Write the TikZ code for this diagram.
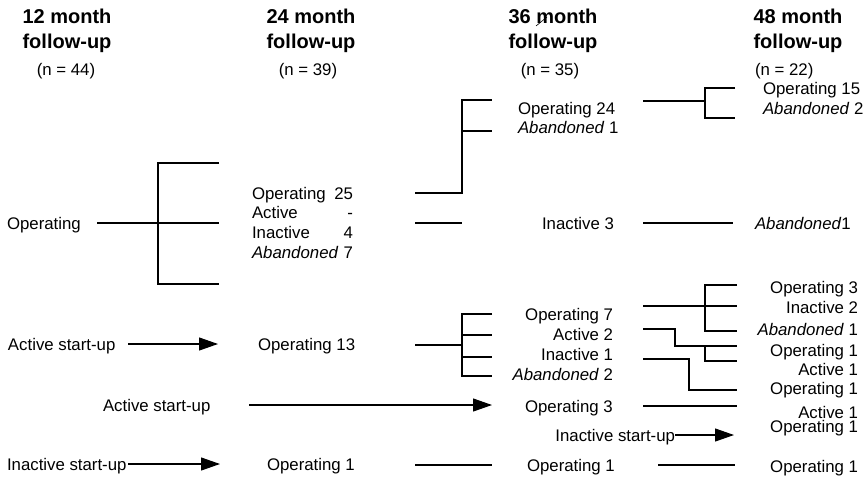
\documentclass[tikz,border=0pt]{standalone}
\usepackage{fontspec}
\setmainfont{Liberation Sans}
\usetikzlibrary{arrows.meta}
% one line of a justified two-part entry (label left, count right)
\newcommand\jline[2]{\hbox to 101pt{#1\hfill #2}}
\begin{document}
\begin{tikzpicture}[x=1pt,y=-1pt,
  txt/.style={font=\fontsize{16.8}{19.8}\selectfont, inner sep=0pt, outer sep=0pt},
  hd/.style={font=\fontsize{20}{24}\selectfont\bfseries, inner sep=0pt, anchor=base},
  conn/.style={line width=1.1pt},
  arr/.style={conn, -{Triangle[length=19pt,width=13pt]}},
]
\useasboundingbox (0,0) rectangle (867,477);

% ---- column headers ----
\node[hd] (h12a) at (67,23) {12 month};
\node[hd] (h12b) at (67,48) {follow-up};
\node[txt,anchor=base] (h12n) at (66,75) {(n = 44)};
\node[hd] (h24a) at (311,23) {24 month};
\node[hd] (h24b) at (311,48) {follow-up};
\node[txt,anchor=base] (h24n) at (308,75) {(n = 39)};
\node[hd] (h36a) at (553,23) {36 month};
\node[hd] (h36b) at (553,48) {follow-up};
\node[txt,anchor=base] (h36n) at (550,75) {(n = 35)};
\draw[line width=0.6pt] (536,26) -- (547,17);
\node[hd] (h48a) at (798,23) {48 month};
\node[hd] (h48b) at (798,48) {follow-up};
\node[txt,anchor=base west] (h48n) at (755,75) {(n = 22)};

% ---- 12 month ----
\node[txt,anchor=base west] (op12) at (7,229) {Operating};
\node[txt,anchor=base west] (as12) at (8,350) {Active start-up};
\node[txt,anchor=base west] (is12) at (7,470) {Inactive start-up};

% ---- 24 month (multi-line nodes are placed by their last baseline) ----
\node[txt,anchor=base west,align=left] (blk24) at (252,258.4)
  {\jline{Operating}{25}\\\jline{Active}{-}\\\jline{Inactive}{4}\\\jline{\textit{Abandoned}}{7}};
\node[txt,anchor=base west] (op13) at (258,350) {Operating 13};
\node[txt,anchor=base west] (as24) at (103,411) {Active start-up};
\node[txt,anchor=base west] (op1b) at (267,470) {Operating 1};

% ---- 36 month ----
\node[txt,anchor=base west,align=left,font=\fontsize{16.8}{19}\selectfont] (op24) at (518,133)
  {Operating 24\\\textit{Abandoned} 1};
\node[txt,anchor=base west] (in3) at (542,229) {Inactive 3};
\node[txt,anchor=base east,align=right,font=\fontsize{16.8}{20}\selectfont] (blk7) at (613,380)
  {Operating 7\\Active 2\\Inactive 1\\\textit{Abandoned} 2};
\node[txt,anchor=base west] (op3) at (525,412) {Operating 3};
\node[txt,anchor=base east] (isu36) at (675,441) {Inactive start-up};
\node[txt,anchor=base west] (op1c) at (527,471) {Operating 1};

% ---- 48 month ----
\node[txt,anchor=base west,align=left,font=\fontsize{16.8}{20}\selectfont] (op15) at (763,114)
  {Operating 15\\\textit{Abandoned} 2};
\node[txt,anchor=base west] (ab1) at (755,229) {\textit{Abandoned}1};
\node[txt,anchor=base east] (r1) at (858,293) {Operating 3};
\node[txt,anchor=base east] (r2) at (858,313) {Inactive 2};
\node[txt,anchor=base east] (r3) at (858,335) {\textit{Abandoned} 1};
\node[txt,anchor=base east] (r4) at (858,356) {Operating 1};
\node[txt,anchor=base east] (r5) at (858,375) {Active 1};
\node[txt,anchor=base east] (r6) at (858,394) {Operating 1};
\node[txt,anchor=base east] (r7) at (858,418) {Active 1};
\node[txt,anchor=base east] (r8) at (858,432) {Operating 1};
\node[txt,anchor=base east] (r9) at (858,472) {Operating 1};

% ---- connector end points ----
\coordinate (a1) at (97,223);   \coordinate (f1) at (158,223);  \coordinate (e1) at (219,223);
\coordinate (f1t) at (158,163); \coordinate (e1t) at (219,163);
\coordinate (f1b) at (158,284); \coordinate (e1b) at (219,284);

% 12 -> 24
\draw[conn] (a1) -- (f1) -- (e1);
\draw[conn] (e1t) -- (f1t) -- (f1b) -- (e1b);
\draw[arr] (128,344) coordinate (s2) -- (218,344) coordinate (t2);
\draw[arr] (128,464) coordinate (s3) -- (220,464) coordinate (t3);

% 24 -> 36
\coordinate (g1) at (462,100);
\draw[conn] (415,193) -- (462,193) -- (g1) -- (492,100);
\draw[conn] (462,131) -- (492,131);
\draw[conn] (415,223) -- (462,223);
\coordinate (g2) at (462,345);
\draw[conn] (415,345) -- (g2);
\draw[conn] (492,314) -- (462,314) -- (462,376) -- (492,376);
\draw[conn] (462,335) -- (492,335);
\draw[conn] (462,357) -- (492,357);
\draw[arr] (249,405) coordinate (s4) -- (492,405) coordinate (t4);
\draw[conn] (415,465) -- (492,465);

% 36 -> 48
\coordinate (k1) at (705,101);
\draw[conn] (643,101) -- (k1);
\draw[conn] (735,88) -- (705,88) -- (705,118) -- (735,118);
\draw[conn] (643,223) -- (733,223);
\draw[conn] (737,285) -- (705,285) -- (705,331) -- (737,331);
\draw[conn] (643,306) -- (737,306);
\draw[conn] (643,329) -- (675,329) -- (675,346) -- (737,346);
\draw[conn] (705,346) -- (705,361) -- (737,361);
\draw[conn] (643,359) -- (689,359) -- (689,390) -- (737,390);
\draw[conn] (643,406) -- (737,406);
\draw[arr] (675,435) coordinate (s5) -- (734,435) coordinate (t5);
\draw[conn] (658,465) -- (735,465);
\end{tikzpicture}
\end{document}
